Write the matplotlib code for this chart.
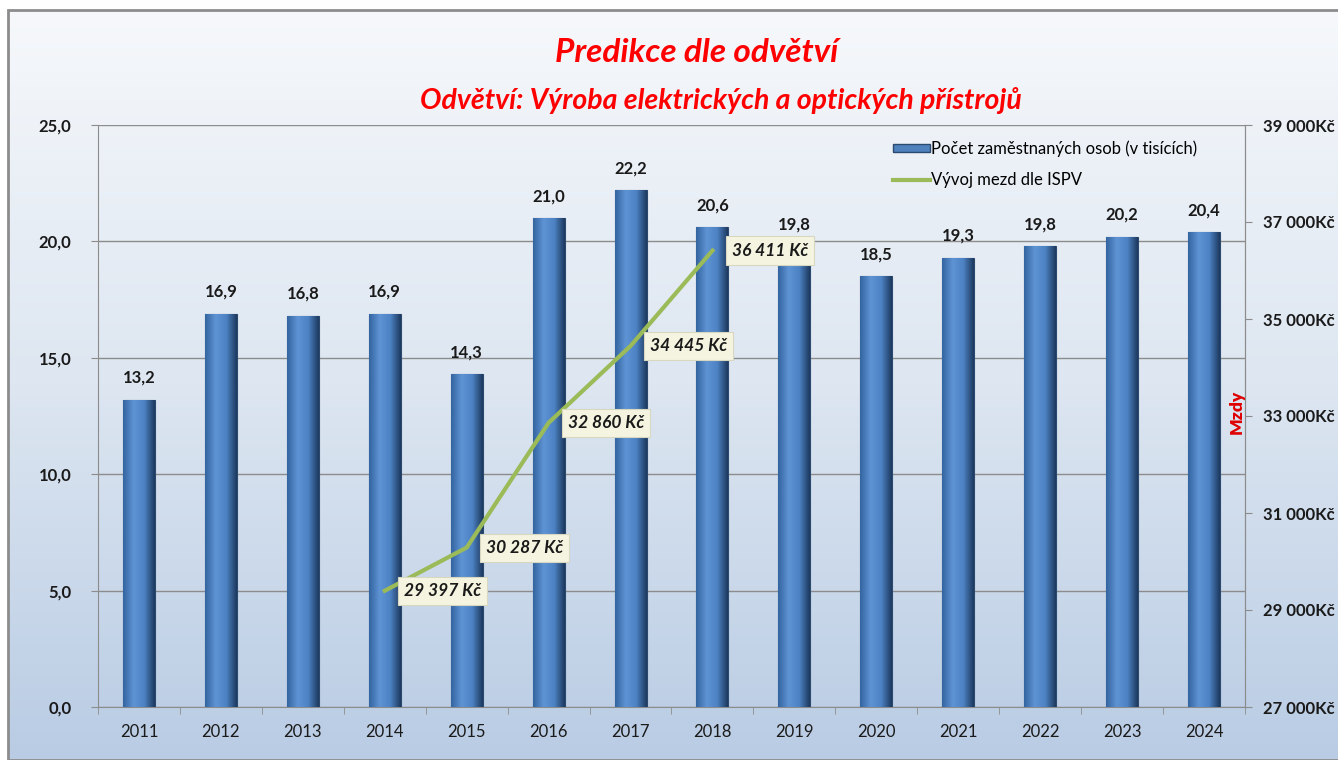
import numpy as np
import matplotlib.pyplot as plt
from matplotlib.patches import Rectangle
from matplotlib.lines import Line2D
from matplotlib.colors import LinearSegmentedColormap

plt.rcParams['font.family'] = ['Lato', 'DejaVu Sans']

# data
years = [2011, 2012, 2013, 2014, 2015, 2016, 2017, 2018, 2019, 2020, 2021, 2022, 2023, 2024]
employees = [13.2, 16.9, 16.8, 16.9, 14.3, 21.0, 22.2, 20.6, 19.8, 18.5, 19.3, 19.8, 20.2, 20.4]
wage_years = [2014, 2015, 2016, 2017, 2018]
wages = [29397, 30287, 32860, 34445, 36411]

fig = plt.figure(figsize=(13.38, 7.6), dpi=100)

# background with gradient and frame
bg = fig.add_axes([8 / 1338, 0, 1, 1 - 10 / 760])
bg.set_axis_off()
bg_cmap = LinearSegmentedColormap.from_list('bg', ['#f6f8fb', '#dde6f1', '#b9cce4'])
bg.imshow(np.linspace(0, 1, 256).reshape(-1, 1), aspect='auto', cmap=bg_cmap,
          extent=[0, 1, 0, 1], origin='upper')
bg.add_patch(Rectangle((0, 0), 1.2, 1, fill=False, edgecolor='#8c8c8c', lw=2,
                       transform=bg.transAxes, clip_on=False))

ax = fig.add_axes([98 / 1338, 53 / 760, 1147 / 1338, 582 / 760])
ax.set_facecolor('none')
x = np.arange(len(years))
bars = ax.bar(x, employees, width=0.39, color='#4f81bd', edgecolor='#2a4a70', lw=0.8,
              zorder=3)

# cylinder-like shading of the bars
bar_cmap = LinearSegmentedColormap.from_list('bar', ['#3465a0', '#5e93d4', '#4d83c4', '#1e3a60'])
grad = np.linspace(0, 1, 64).reshape(1, -1)
for b in bars:
    x0, y0 = b.get_x(), b.get_y()
    w, h = b.get_width(), b.get_height()
    im = ax.imshow(grad, aspect='auto', cmap=bar_cmap, extent=[x0, x0 + w, y0, y0 + h],
                   zorder=3.5)
    im.set_clip_path(b)

for xi, v in zip(x, employees):
    ax.annotate(f'{v:.1f}'.replace('.', ','), (xi, v), xytext=(0, 10),
                textcoords='offset points', ha='center', va='bottom',
                fontsize=12, fontweight='bold', color='#1a1a1a')

ax.set_xlim(-0.5, len(years) - 0.5)
ax.set_ylim(0, 25)
ax.set_yticks(np.arange(0, 26, 5))
ax.set_yticklabels([f'{v:.1f}'.replace('.', ',') for v in np.arange(0, 26, 5)],
                   fontsize=12, fontweight='bold', color='#1a1a1a')
ax.set_xticks(x)
ax.set_xticklabels([str(y) for y in years], fontsize=12, color='#1a1a1a')
ax.set_xticks(np.arange(-0.5, len(years), 1), minor=True)
ax.tick_params(axis='x', which='major', length=0, pad=12)
ax.tick_params(axis='x', which='minor', length=5, color='#8c8c8c')
ax.tick_params(axis='y', length=5, color='#8c8c8c', pad=14)
ax.grid(axis='y', color='#8c8c8c', lw=1, zorder=0)
ax.set_axisbelow(True)
ax.spines['top'].set_visible(False)
for s in ['left', 'bottom', 'right']:
    ax.spines[s].set_color('#8c8c8c')

ax2 = ax.twinx()
wx = [years.index(y) for y in wage_years]
ax2.plot(wx, wages, color='#9bbb59', lw=3, zorder=5)
ax2.set_ylim(27000, 39000)
ax2.set_yticks(np.arange(27000, 39001, 2000))
ax2.set_yticklabels([f'{v:,}'.replace(',', ' ') + 'Kč' for v in range(27000, 39001, 2000)],
                    fontsize=12, fontweight='bold', color='#1a1a1a')
ax2.tick_params(axis='y', length=5, color='#8c8c8c', pad=8)
ax2.spines['top'].set_visible(False)
ax2.spines['right'].set_color('#8c8c8c')
ax2.spines['left'].set_visible(False)
ax2.spines['bottom'].set_visible(False)

for xi, w in zip(wx, wages):
    ax2.annotate(f'{w:,} Kč'.replace(',', ' '), (xi, w), xytext=(14, 0),
                 textcoords='offset points', ha='left', va='center',
                 fontsize=12.5, fontweight='bold', style='italic', color='#1a1a1a',
                 bbox=dict(boxstyle='square,pad=0.35', fc='#f4f4e0', ec='#d8d8c0', lw=0.8),
                 zorder=6)

fig.text(1237 / 1338, 1 - 412 / 760, 'Mzdy', rotation=90, ha='center', va='center',
         color='#e00000', fontsize=12.5, fontweight='heavy')

handles = [Rectangle((0, 0), 1, 1, fc='#4f81bd', ec='#2a4a70'),
           Line2D([], [], color='#9bbb59', lw=3)]
ax.legend(handles, ['Počet zaměstnaných osob (v tisících)', 'Vývoj mezd dle ISPV'],
          loc='upper left', bbox_to_anchor=(0.68, 1.0), frameon=False, fontsize=12,
          handlelength=2.2, handleheight=0.35, handletextpad=0.1, labelspacing=0.9)

fig.text(0.521, 1 - 52 / 760, 'Predikce dle odvětví', ha='center', va='center',
         color='#ff0000', fontsize=24, fontweight='bold', style='italic')
fig.text(0.539, 1 - 100 / 760, 'Odvětví: Výroba elektrických a optických přístrojů',
         ha='center', va='center', color='#ff0000', fontsize=20.5, fontweight='bold',
         style='italic')

fig.savefig('out.png', dpi=100)
